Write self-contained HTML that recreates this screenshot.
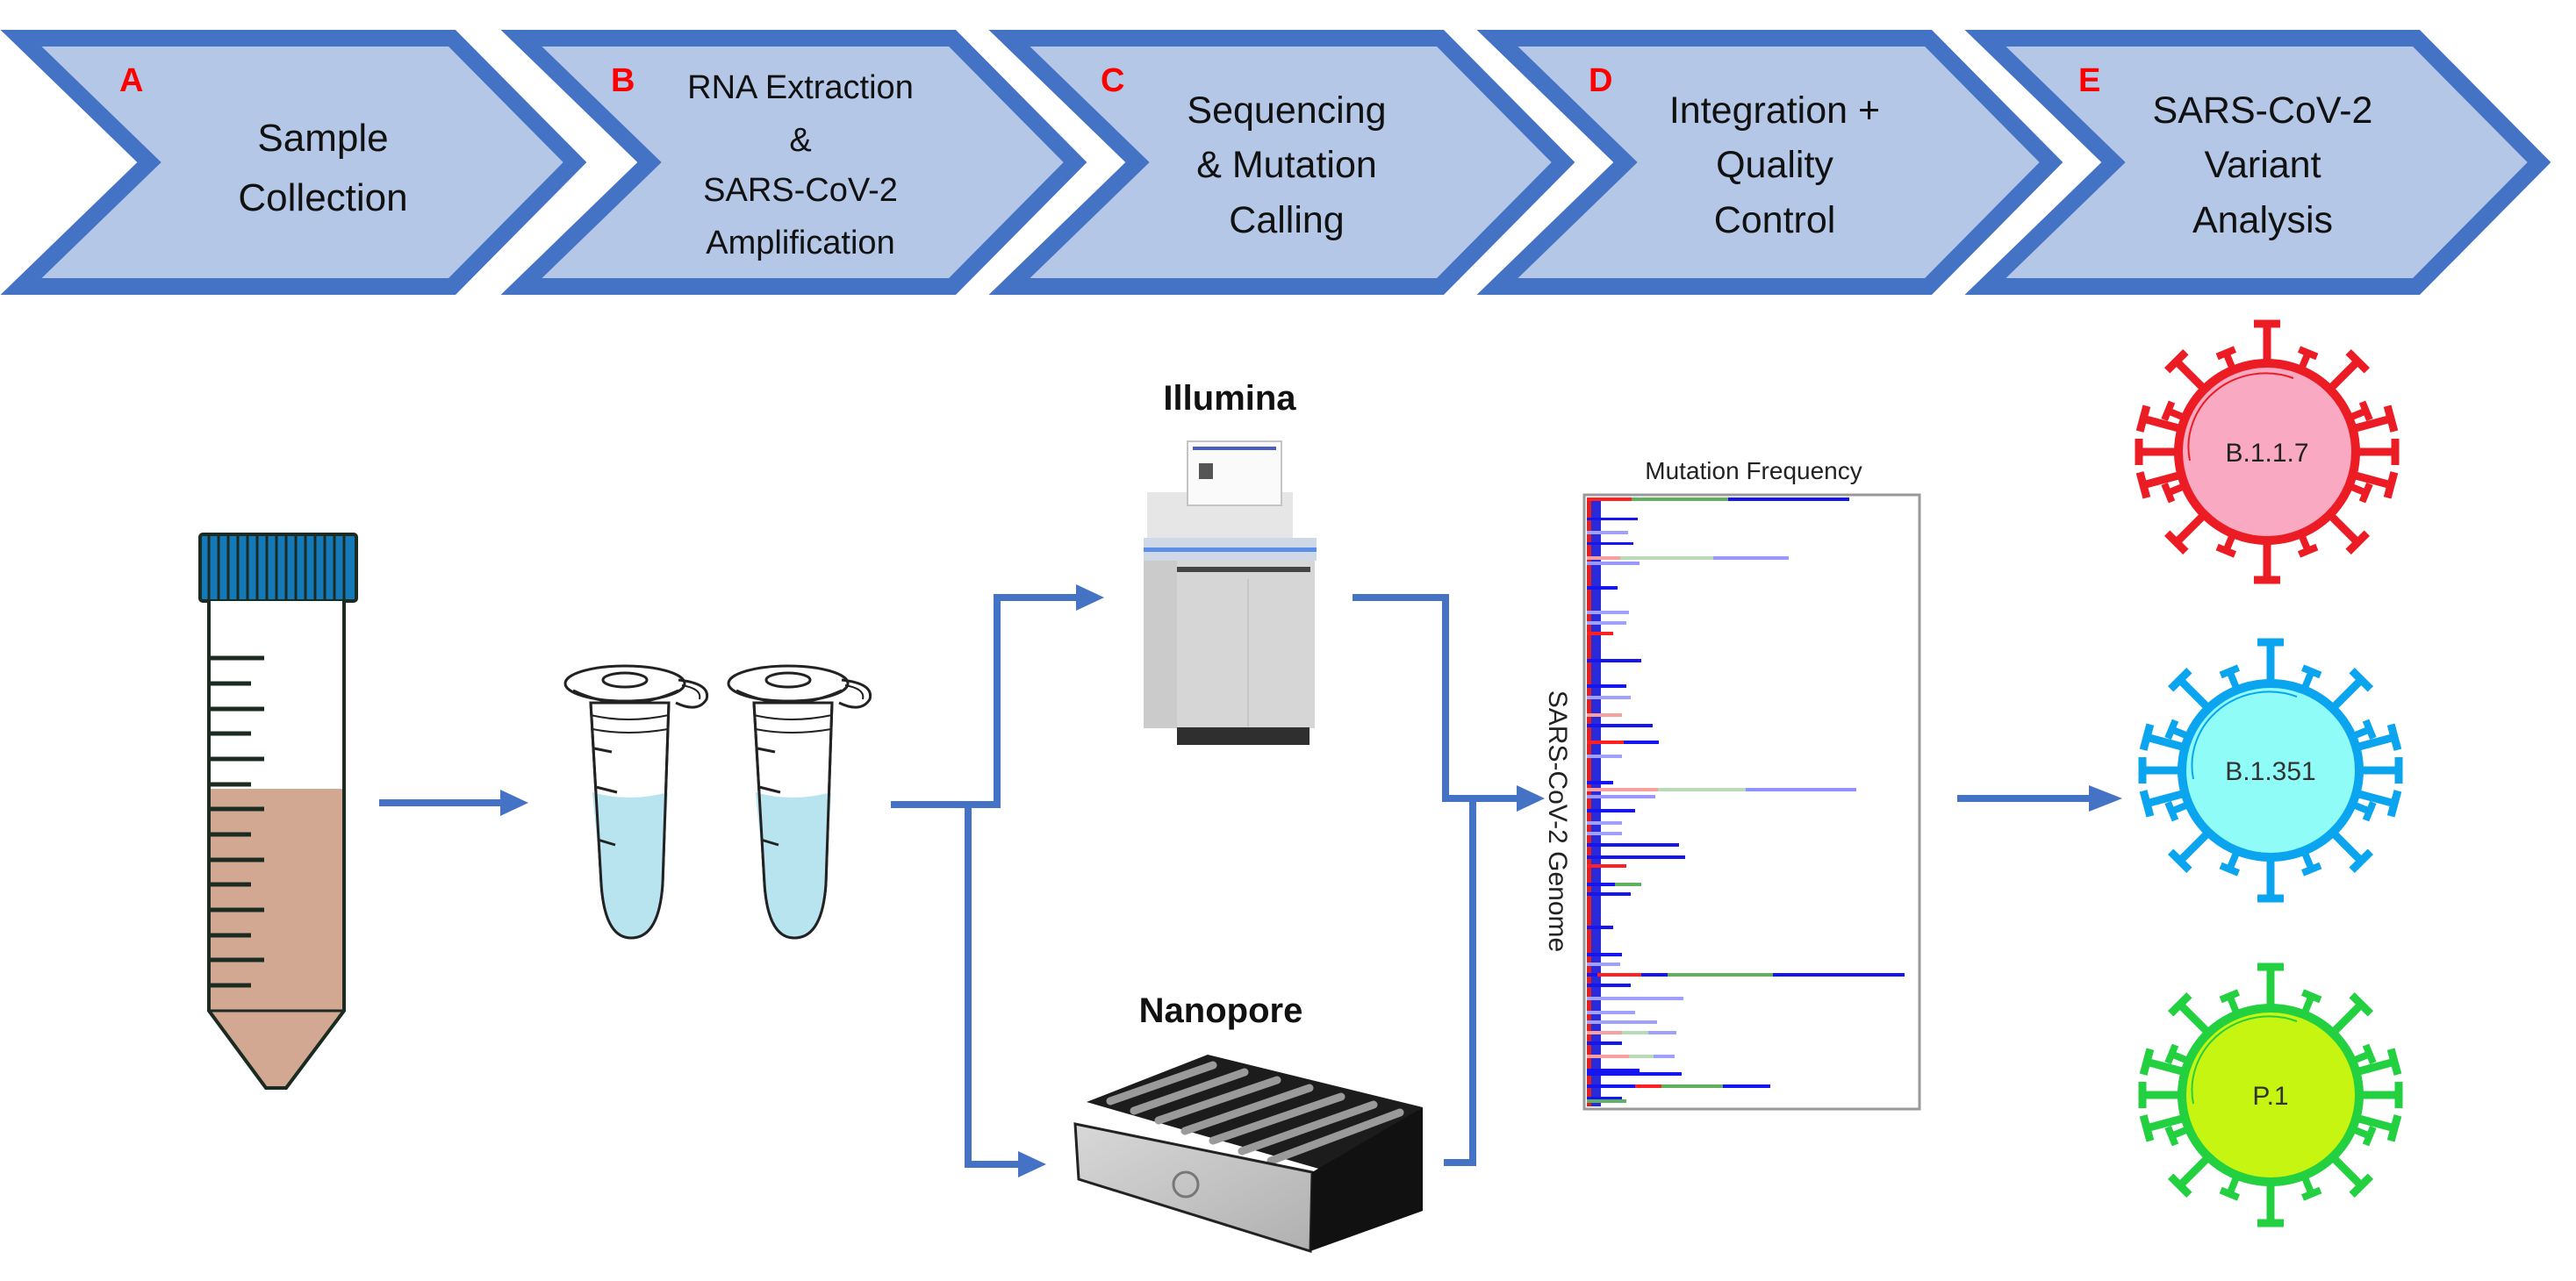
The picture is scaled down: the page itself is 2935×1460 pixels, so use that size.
<!DOCTYPE html>
<html><head><meta charset="utf-8"><style>
html,body{margin:0;padding:0;background:#fff}
svg{display:block}
text{font-family:"Liberation Sans",sans-serif}
</style></head><body>
<svg width="2935" height="1460" viewBox="0 0 2935 1460" xmlns="http://www.w3.org/2000/svg">
<defs>
<g id="chev"><polygon points="14,43.5 505,43.5 645,185 505,326.5 14,326.5 160,185" fill="#b4c7e7" stroke="#4472c4" stroke-width="19" stroke-linejoin="miter"/></g>
<g id="ls"><line x1="0" y1="-100" x2="0" y2="-146" stroke="currentColor" stroke-width="9"/><line x1="-15" y1="-146" x2="15" y2="-146" stroke="currentColor" stroke-width="9"/></g>
<g id="ss"><line x1="0" y1="-100" x2="0" y2="-122" stroke="currentColor" stroke-width="8"/><line x1="-11" y1="-122" x2="11" y2="-122" stroke="currentColor" stroke-width="8"/></g>
<g id="spikes">
<use href="#ls" transform="rotate(0)"/><use href="#ss" transform="rotate(22.5)"/><use href="#ls" transform="rotate(45)"/><use href="#ss" transform="rotate(67.5)"/>
<use href="#ls" transform="rotate(90)"/><use href="#ss" transform="rotate(112.5)"/><use href="#ls" transform="rotate(135)"/><use href="#ss" transform="rotate(157.5)"/>
<use href="#ls" transform="rotate(180)"/><use href="#ss" transform="rotate(202.5)"/><use href="#ls" transform="rotate(225)"/><use href="#ss" transform="rotate(247.5)"/>
<use href="#ls" transform="rotate(270)"/><use href="#ss" transform="rotate(292.5)"/><use href="#ls" transform="rotate(315)"/><use href="#ss" transform="rotate(337.5)"/>
<use href="#ls" transform="rotate(-75)"/><use href="#ls" transform="rotate(75)"/><use href="#ls" transform="rotate(105)"/><use href="#ls" transform="rotate(-105)"/>
</g>
<g id="etube">
<path d="M28,44 L117,44 L110,250 Q106,312 74,312 Q44,312 40,250 Z" fill="#fff" stroke="#222" stroke-width="3"/>
<path d="M30,146 Q72,158 116,146 L110,250 Q106,312 74,312 Q44,312 40,250 Z" fill="#b8e4ef"/>
<path d="M28,44 L117,44 L110,250 Q106,312 74,312 Q44,312 40,250 Z" fill="none" stroke="#222" stroke-width="3"/>
<ellipse cx="67" cy="22" rx="68" ry="20" fill="#fff" stroke="#222" stroke-width="3"/>
<ellipse cx="67" cy="18" rx="25" ry="8" fill="none" stroke="#222" stroke-width="3"/>
<path d="M8,30 Q67,58 128,30" fill="none" stroke="#222" stroke-width="3"/>
<path d="M128,18 Q165,22 160,40 Q150,56 125,44" fill="none" stroke="#222" stroke-width="3"/>
<path d="M132,24 Q155,28 152,40" fill="none" stroke="#222" stroke-width="2"/>
<path d="M28,58 Q70,68 117,58 M30,74 Q70,82 116,74" fill="none" stroke="#222" stroke-width="2"/>
<path d="M32,96 L52,100 M34,140 L58,146 M36,200 L56,206" stroke="#222" stroke-width="3"/>
</g>
<linearGradient id="silver" x1="0" y1="0" x2="1" y2="1"><stop offset="0" stop-color="#d8d8d8"/><stop offset="1" stop-color="#b0b0b0"/></linearGradient>
</defs>

<!-- Chevrons -->
<use href="#chev" transform="translate(10,0)"/>
<use href="#chev" transform="translate(580,0)"/>
<use href="#chev" transform="translate(1136,0)"/>
<use href="#chev" transform="translate(1692,0)"/>
<use href="#chev" transform="translate(2248,0)"/>

<g font-weight="bold" fill="#ff0000" font-size="38">
<text x="136" y="104">A</text><text x="696" y="104">B</text><text x="1254" y="104">C</text><text x="1810" y="104">D</text><text x="2368" y="104">E</text>
</g>
<g fill="#111" text-anchor="middle">
<text x="368" y="172" font-size="44">Sample</text>
<text x="368" y="240" font-size="44">Collection</text>
<text x="912" y="112" font-size="38">RNA Extraction</text>
<text x="912" y="172" font-size="38">&amp;</text>
<text x="912" y="229" font-size="38">SARS-CoV-2</text>
<text x="912" y="289" font-size="38">Amplification</text>
<text x="1466" y="140" font-size="43">Sequencing</text>
<text x="1466" y="202" font-size="43">&amp; Mutation</text>
<text x="1466" y="265" font-size="43">Calling</text>
<text x="2022" y="140" font-size="43">Integration +</text>
<text x="2022" y="202" font-size="43">Quality</text>
<text x="2022" y="265" font-size="43">Control</text>
<text x="2578" y="140" font-size="43">SARS-CoV-2</text>
<text x="2578" y="202" font-size="43">Variant</text>
<text x="2578" y="265" font-size="43">Analysis</text>
</g>

<!-- Falcon tube -->
<rect x="228" y="609" width="178" height="76" rx="3" fill="#1479b8" stroke="#1b2b22" stroke-width="4"/>
<g stroke="#1b2b22" stroke-width="3">
<line x1="238" y1="611" x2="238" y2="683"/><line x1="249" y1="611" x2="249" y2="683"/><line x1="260" y1="611" x2="260" y2="683"/><line x1="271" y1="611" x2="271" y2="683"/><line x1="282" y1="611" x2="282" y2="683"/><line x1="293" y1="611" x2="293" y2="683"/><line x1="304" y1="611" x2="304" y2="683"/><line x1="315" y1="611" x2="315" y2="683"/><line x1="326" y1="611" x2="326" y2="683"/><line x1="337" y1="611" x2="337" y2="683"/><line x1="348" y1="611" x2="348" y2="683"/><line x1="359" y1="611" x2="359" y2="683"/><line x1="370" y1="611" x2="370" y2="683"/><line x1="381" y1="611" x2="381" y2="683"/><line x1="392" y1="611" x2="392" y2="683"/>
</g>
<rect x="238" y="685" width="154" height="467" fill="#fff"/>
<path d="M238,899 L392,899 L392,1152 L326,1240 L303,1240 L238,1152 Z" fill="#d2a892"/>
<path d="M238,685 L238,1152 L303,1240 L326,1240 L392,1152 L392,685" fill="none" stroke="#1b2b22" stroke-width="4"/>
<line x1="238" y1="1152" x2="392" y2="1152" stroke="#1b2b22" stroke-width="3"/>
<g stroke="#1b2b22" stroke-width="5">
<line x1="240" y1="750" x2="301" y2="750"/><line x1="240" y1="779" x2="286" y2="779"/><line x1="240" y1="808" x2="301" y2="808"/><line x1="240" y1="836" x2="286" y2="836"/><line x1="240" y1="865" x2="301" y2="865"/><line x1="240" y1="894" x2="286" y2="894"/><line x1="240" y1="922" x2="301" y2="922"/><line x1="240" y1="951" x2="286" y2="951"/><line x1="240" y1="980" x2="301" y2="980"/><line x1="240" y1="1008" x2="286" y2="1008"/><line x1="240" y1="1037" x2="301" y2="1037"/><line x1="240" y1="1066" x2="286" y2="1066"/><line x1="240" y1="1094" x2="301" y2="1094"/><line x1="240" y1="1123" x2="286" y2="1123"/>
</g>

<!-- Eppendorf tubes -->
<use href="#etube" transform="translate(645,757)"/>
<use href="#etube" transform="translate(831,757)"/>

<!-- Arrows / connectors -->
<g stroke="#4472c4" stroke-width="8" fill="none">
<line x1="432" y1="915" x2="575" y2="915"/>
<polyline points="1015,917 1136,917 1136,681 1230,681"/>
<polyline points="1103,917 1103,1327 1165,1327"/>
<polyline points="1541,681 1647,681 1647,910 1732,910"/>
<polyline points="1645,1325 1678,1325 1678,910"/>
<line x1="2230" y1="910" x2="2385" y2="910"/>
</g>
<g fill="#4472c4">
<polygon points="570,900 602,915 570,930"/>
<polygon points="1226,666 1258,681 1226,696"/>
<polygon points="1160,1312 1192,1327 1160,1342"/>
<polygon points="1728,895 1760,910 1728,925"/>
<polygon points="2380,895 2418,910 2380,925"/>
</g>

<!-- Illumina -->
<text x="1401" y="467" font-size="40" font-weight="bold" text-anchor="middle" fill="#111">Illumina</text>
<rect x="1307" y="561" width="166" height="55" fill="#e6e6e6"/>
<rect x="1353" y="503" width="107" height="73" fill="#fafafa" stroke="#c4c4c4" stroke-width="2"/>
<rect x="1359" y="509" width="95" height="4" fill="#4a5fc0"/>
<rect x="1366" y="528" width="16" height="18" fill="#555"/>
<rect x="1303" y="613" width="197" height="26" fill="#cfd8e6"/>
<rect x="1303" y="624" width="197" height="5" fill="#5b8fe8"/>
<rect x="1303" y="639" width="195" height="191" fill="#d6d6d6"/>
<rect x="1303" y="639" width="38" height="191" fill="#cbcbcb"/>
<rect x="1341" y="646" width="152" height="6" fill="#444"/>
<line x1="1422" y1="660" x2="1422" y2="828" stroke="#c6c6c6" stroke-width="2"/>
<rect x="1341" y="829" width="151" height="20" fill="#2f2f2f"/>

<!-- Nanopore -->
<text x="1391" y="1165" font-size="40" font-weight="bold" text-anchor="middle" fill="#111">Nanopore</text>
<polygon points="1238,1256 1376,1202 1621,1262 1506,1333" fill="#1c1c1c"/>
<g stroke="#9a9a9a" stroke-width="9" stroke-linecap="round">
<line x1="1265" y1="1255" x2="1382" y2="1214"/><line x1="1292" y1="1266" x2="1418" y2="1222"/><line x1="1320" y1="1277" x2="1455" y2="1231"/><line x1="1350" y1="1289" x2="1492" y2="1240"/><line x1="1382" y1="1300" x2="1528" y2="1250"/><line x1="1415" y1="1312" x2="1565" y2="1259"/><line x1="1448" y1="1323" x2="1595" y2="1268"/>
</g>
<polygon points="1225,1281 1495,1336 1493,1426 1229,1344" fill="url(#silver)" stroke="#222" stroke-width="3"/>
<polygon points="1495,1336 1621,1262 1621,1380 1493,1426" fill="#111"/>
<circle cx="1351" cy="1350" r="14" fill="none" stroke="#777" stroke-width="3"/>

<!-- Chart -->
<text x="1998" y="546" font-size="28" text-anchor="middle" fill="#222">Mutation Frequency</text>
<text transform="translate(1765,936) rotate(90)" font-size="30" text-anchor="middle" fill="#222">SARS-CoV-2 Genome</text>
<rect x="1805" y="564" width="382" height="700" fill="#fff" stroke="#999" stroke-width="3"/>
<g>
<rect x="1808" y="567" width="16" height="694" fill="#2a2ad8"/>
<rect x="1808" y="567" width="5" height="694" fill="#e02020"/>
<rect x="1808" y="567" width="51" height="4" fill="#ff2020"/><rect x="1859" y="567" width="110" height="4" fill="#60b060"/><rect x="1969" y="567" width="138" height="4" fill="#1515f0"/>
<rect x="1808" y="634" width="38" height="4" fill="#f8a0a0"/><rect x="1846" y="634" width="106" height="4" fill="#b8dab8"/><rect x="1952" y="634" width="86" height="4" fill="#9898ff"/>
<rect x="1808" y="898" width="81" height="4" fill="#f8a0a0"/><rect x="1889" y="898" width="100" height="4" fill="#b8dab8"/><rect x="1989" y="898" width="126" height="4" fill="#9090ff"/>
<rect x="1808" y="1109" width="92" height="4" fill="#1515f0"/><rect x="1820" y="1109" width="50" height="4" fill="#ff2020"/><rect x="1900" y="1109" width="120" height="4" fill="#60b060"/><rect x="2020" y="1109" width="150" height="4" fill="#1515f0"/>
<rect x="1808" y="1236" width="55" height="4" fill="#1515f0"/><rect x="1863" y="1236" width="30" height="4" fill="#ff2020"/><rect x="1893" y="1236" width="70" height="4" fill="#60b060"/><rect x="1963" y="1236" width="54" height="4" fill="#1515f0"/>
<rect x="1808" y="640" width="60" height="4" fill="#9898ff"/>
<rect x="1808" y="590" width="58" height="3" fill="#1515f0"/>
<rect x="1808" y="605" width="47" height="4" fill="#a0a0ff"/>
<rect x="1808" y="618" width="53" height="3" fill="#1515f0"/>
<rect x="1808" y="668" width="35" height="4" fill="#1515f0"/>
<rect x="1808" y="696" width="48" height="4" fill="#a0a0ff"/>
<rect x="1808" y="708" width="45" height="4" fill="#a0a0ff"/>
<rect x="1808" y="720" width="30" height="4" fill="#ff2020"/>
<rect x="1808" y="751" width="62" height="4" fill="#1515f0"/>
<rect x="1808" y="780" width="45" height="4" fill="#1515f0"/>
<rect x="1808" y="793" width="50" height="4" fill="#a0a0ff"/>
<rect x="1808" y="813" width="40" height="4" fill="#f8a0a0"/>
<rect x="1808" y="825" width="75" height="4" fill="#1515f0"/>
<rect x="1808" y="844" width="42" height="4" fill="#ff2020"/><rect x="1850" y="844" width="40" height="4" fill="#1515f0"/>
<rect x="1808" y="860" width="40" height="4" fill="#a0a0ff"/>
<rect x="1808" y="890" width="30" height="4" fill="#1515f0"/>
<rect x="1808" y="906" width="78" height="4" fill="#9898ff"/>
<rect x="1808" y="922" width="55" height="4" fill="#1515f0"/>
<rect x="1808" y="936" width="40" height="4" fill="#a0a0ff"/>
<rect x="1808" y="948" width="40" height="4" fill="#a0a0ff"/>
<rect x="1808" y="961" width="105" height="4" fill="#1515f0"/>
<rect x="1808" y="975" width="112" height="4" fill="#1515f0"/>
<rect x="1808" y="985" width="45" height="4" fill="#ff2020"/>
<rect x="1808" y="1006" width="55" height="4" fill="#1515f0"/><rect x="1840" y="1006" width="30" height="4" fill="#60b060"/>
<rect x="1808" y="1017" width="50" height="4" fill="#1515f0"/>
<rect x="1808" y="1055" width="30" height="4" fill="#1515f0"/>
<rect x="1808" y="1086" width="40" height="4" fill="#1515f0"/>
<rect x="1808" y="1097" width="38" height="4" fill="#a0a0ff"/>
<rect x="1808" y="1121" width="50" height="4" fill="#1515f0"/>
<rect x="1808" y="1136" width="110" height="4" fill="#a0a0ff"/>
<rect x="1808" y="1152" width="55" height="4" fill="#a0a0ff"/>
<rect x="1808" y="1163" width="80" height="4" fill="#a0a0ff"/>
<rect x="1808" y="1175" width="40" height="4" fill="#f8a0a0"/><rect x="1848" y="1175" width="30" height="4" fill="#b8dab8"/><rect x="1878" y="1175" width="32" height="4" fill="#a0a0ff"/>
<rect x="1808" y="1187" width="40" height="4" fill="#1515f0"/>
<rect x="1808" y="1202" width="48" height="4" fill="#f8a0a0"/><rect x="1856" y="1202" width="28" height="4" fill="#b8dab8"/><rect x="1884" y="1202" width="24" height="4" fill="#a0a0ff"/>
<rect x="1808" y="1218" width="60" height="4" fill="#1515f0"/>
<rect x="1808" y="1222" width="108" height="4" fill="#1515f0"/>
<rect x="1808" y="1250" width="40" height="4" fill="#1515f0"/>
<rect x="1808" y="1253" width="45" height="4" fill="#60b060"/>
</g>

<!-- Viruses -->
<g transform="translate(2583,515)" color="#ec1c24">
<use href="#spikes"/>
<ellipse rx="101" ry="101" fill="#f9aac2" stroke="#ec1c24" stroke-width="10"/>
<path d="M-88,10 A88,84 0 0 1 30,-84" fill="none" stroke="#ec1c24" stroke-width="2"/>
<text y="11" font-size="30" text-anchor="middle" fill="#222">B.1.1.7</text>
</g>
<g transform="translate(2587,878)" color="#0aa4ef">
<use href="#spikes"/>
<ellipse rx="101" ry="99" fill="#8ffcf8" stroke="#0aa4ef" stroke-width="10"/>
<path d="M-88,10 A88,84 0 0 1 30,-84" fill="none" stroke="#0aa4ef" stroke-width="2"/>
<text y="11" font-size="30" text-anchor="middle" fill="#333">B.1.351</text>
</g>
<g transform="translate(2587,1248)" color="#22d040">
<use href="#spikes"/>
<ellipse rx="101" ry="99" fill="#c6f512" stroke="#22d040" stroke-width="10"/>
<path d="M-88,10 A88,84 0 0 1 30,-84" fill="none" stroke="#22d040" stroke-width="2"/>
<text y="11" font-size="30" text-anchor="middle" fill="#333">P.1</text>
</g>
</svg>
</body></html>
